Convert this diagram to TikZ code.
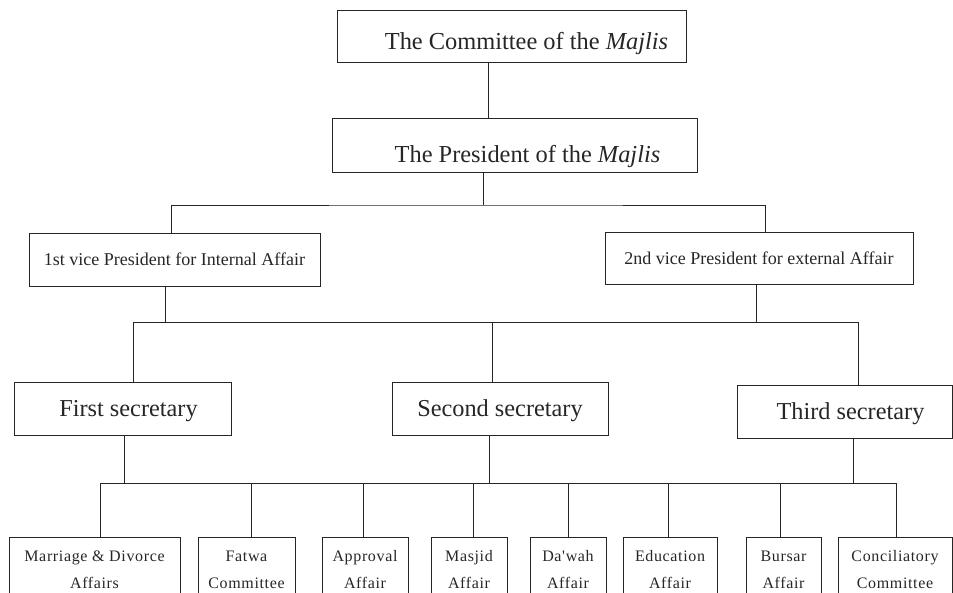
\documentclass[tikz,border=0pt]{standalone}
\usepackage{fontspec}
\setmainfont{Liberation Serif}
\newfontfamily\spacedfont[LetterSpace=4]{Liberation Serif}

\begin{document}
\begin{tikzpicture}
  [x=1pt,y=-1pt,line width=0.8pt,color=black!85,
   every node/.style={rectangle, draw=black!85, line width=0.8pt, inner sep=0pt},
   headbox/.style={font=\fontsize{24.4}{28}\selectfont, text depth=4},
   vicebox/.style={font=\fontsize{18}{20}\selectfont, minimum height=53},
   secbox/.style={font=\fontsize{24.3}{28}\selectfont, minimum width=216, minimum height=53, text height=22, text depth=5},
   unitbox/.style={font=\spacedfont\fontsize{16}{27}\selectfont, align=center, minimum height=65}]
  \clip (0,0) rectangle (953,593);

  \node [headbox, minimum width=349, minimum height=52, text height=32] (cmt) at (511.5,36) {\hspace{30pt}The Committee of the \textit{Majlis}};
  \node [headbox, minimum width=365, minimum height=54, text height=40] (pres) at (514.5,145) {\hspace{26pt}The President of the \textit{Majlis}};

  \node [vicebox, minimum width=291] (vpint) at (174.5,259.5) {1st vice President for Internal Affair\hspace{12pt}};
  \node [vicebox, minimum width=308, minimum height=52] (vpext) at (759,258) {2nd vice President for external Affair};

  \node [secbox, minimum width=217] (secA) at (122.5,408.5) {\hspace{12pt}First secretary};
  \node [secbox] (secB) at (500,408.5) {Second secretary};
  \node [secbox, minimum width=215] (secC) at (844.5,411.5) {\hspace{12pt}Third secretary};

  \node [unitbox, minimum width=171] (marriage) at (94.5,569.5) {Marriage \& Divorce\\Affairs};
  \node [unitbox, minimum width=97] (fatwa) at (246.5,569.5) {Fatwa\\Committee};
  \node [unitbox, minimum width=86] (approval) at (365,569.5) {Approval\\Affair};
  \node [unitbox, minimum width=76] (masjid) at (469,569.5) {Masjid\\Affair};
  \node [unitbox, minimum width=76] (dawah) at (568,569.5) {Da'wah\\Affair};
  \node [unitbox, minimum width=94] (education) at (670,569.5) {Education\\Affair};
  \node [unitbox, minimum width=75] (bursar) at (783.5,569.5) {Bursar\\Affair};
  \node [unitbox, minimum width=114] (concil) at (895,569.5) {Conciliatory\\Committee};

  \coordinate (dropA) at (488,0);
  \coordinate (busA) at (483,205);
  \coordinate (busB) at (492,322);
  \coordinate (busC) at (489,483);

  \draw (cmt.south -| dropA) -- (pres.north -| dropA);
  \draw (pres.south -| busA) -- (busA);
  \draw ([xshift=-3.5]vpint.north) |- (busA) -| ([xshift=6]vpext.north);

  \draw ([xshift=-9.5]vpint.south) |- (busB);
  \draw ([xshift=-3]vpext.south) |- (busB);
  \draw ([xshift=10.5]secA.north) |- (busB) -| ([xshift=13.5]secC.north);
  \draw (secB.north -| busB) -- (busB);

  \draw ([xshift=1.5]secA.south) |- (busC);
  \draw (secB.south -| busC) -- (busC);
  \draw ([xshift=8.5]secC.south) |- (busC);
  \draw ([xshift=5.5]marriage.north) |- (busC) -| ([xshift=1]concil.north);
  \draw ([xshift=4.5]fatwa.north) |- (busC);
  \draw ([xshift=-2]approval.north) |- (busC);
  \draw ([xshift=4]masjid.north) |- (busC);
  \draw (dawah.north) |- (busC);
  \draw ([xshift=-2]education.north) |- (busC);
  \draw ([xshift=-3.5]bursar.north) |- (busC);
\end{tikzpicture}
\end{document}
